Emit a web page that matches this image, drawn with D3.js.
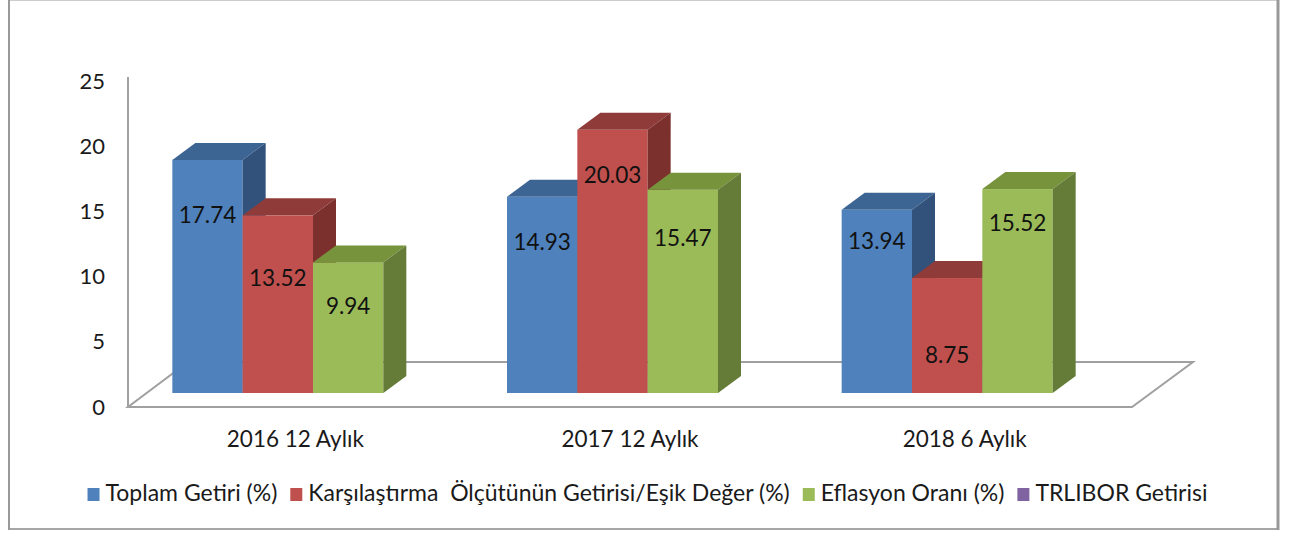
<!DOCTYPE html>
<html>
<head>
<meta charset="utf-8">
<script src="https://cdn.jsdelivr.net/npm/d3@7"></script>
<style>
  body { margin: 0; background: #fff; }
  svg { display: block; font-family: Lato, "Open Sans", sans-serif; }
</style>
</head>
<body>
<svg width="1289" height="533"></svg>
<script>
const categories = ['2016 12 Aylık', '2017 12 Aylık', '2018 6 Aylık'];
const seriesNames = ['Toplam Getiri (%)', 'Karşılaştırma  Ölçütünün Getirisi/Eşik Değer (%)', 'Eflasyon Oranı (%)', 'TRLIBOR Getirisi'];
const toplamGetiri = [17.74, 14.93, 13.94];
const esikDeger = [13.52, 20.03, 8.75];
const enflasyon = [9.94, 15.47, 15.52];
const trlibor = [null, null, null];
const yTicks = [0, 5, 10, 15, 20, 25];

const series = [toplamGetiri, esikDeger, enflasyon, trlibor];

// front / top / side shades for each series
const colors = [
    { front: '#4f81bd', top: '#3d6593', side: '#32527c' },
    { front: '#c0504d', top: '#8f3b39', side: '#7b302e' },
    { front: '#9bbb59', top: '#77933c', side: '#647c37' },
    { front: '#8064a2', top: '#634d7e', side: '#534169' }
];

// how far below the bar top each value label sits (px)
const labelDrop = [[55, 63, 44], [45, 45, 48], [31, 77, 34]];

const svg = d3.select('svg');
const depthX = 23, depthY = -17;

// frame
svg.append('line').attr('x1', 9).attr('x2', 1278).attr('y1', 0.5).attr('y2', 0.5).attr('stroke', '#cccccc');
svg.append('line').attr('x1', 9).attr('x2', 1278).attr('y1', 529).attr('y2', 529).attr('stroke', '#a6a6a6').attr('stroke-width', 2);
svg.append('line').attr('x1', 9).attr('x2', 9).attr('y1', 0).attr('y2', 530).attr('stroke', '#999').attr('stroke-width', 2);
svg.append('line').attr('x1', 1278).attr('x2', 1278).attr('y1', 0).attr('y2', 530).attr('stroke', '#999').attr('stroke-width', 3);

const x = d3.scaleBand().domain(categories).range([128, 1132]);
const groupW = 211;
const xs = d3.scaleBand().domain([0, 1, 2]).range([0, groupW]);
const y = d3.scaleLinear().domain([0, 25]).range([393, 64.5]);
const yAxisScale = d3.scaleLinear().domain([0, 25]).range([407, 81]);

// floor
const floor = [[128, 407], [1132, 407], [1193, 362], [188, 362]];
svg.append('polygon')
    .attr('points', floor.map(p => p.join(',')).join(' '))
    .attr('fill', 'none')
    .attr('stroke', '#a0a0a0')
    .attr('stroke-width', 2);

// y axis
svg.append('line').attr('x1', 128).attr('x2', 128).attr('y1', 77).attr('y2', 407)
    .attr('stroke', '#a0a0a0').attr('stroke-width', 2);

const yAxis = svg.append('g')
    .attr('transform', 'translate(128,0)')
    .call(d3.axisLeft(yAxisScale).tickValues(yTicks).tickSize(0).tickPadding(23));
yAxis.select('.domain').remove();
yAxis.selectAll('text').attr('font-size', 22).attr('fill', '#1a1a1a').attr('font-family', 'Lato');

// bars
const bars = svg.append('g');
categories.forEach((cat, i) => {
    const gx = x(cat) + x.bandwidth() / 2 - 17.5 - groupW / 2;
    [0, 1, 2].forEach(j => {
        const v = series[j][i];
        const x0 = gx + xs(j), x1 = x0 + xs.bandwidth();
        const yt = y(v), yb = y(0);
        const c = colors[j];
        bars.append('rect')
            .attr('x', x0).attr('y', yt)
            .attr('width', xs.bandwidth()).attr('height', yb - yt)
            .attr('fill', c.front);
        bars.append('polygon')
            .attr('points', [[x0, yt], [x1, yt], [x1 + depthX, yt + depthY], [x0 + depthX, yt + depthY]].map(p => p.join(',')).join(' '))
            .attr('fill', c.top);
        bars.append('polygon')
            .attr('points', [[x1, yt], [x1 + depthX, yt + depthY], [x1 + depthX, yb + depthY], [x1, yb]].map(p => p.join(',')).join(' '))
            .attr('fill', c.side);
    });
});

// value labels
categories.forEach((cat, i) => {
    const gx = x(cat) + x.bandwidth() / 2 - 17.5 - groupW / 2;
    [0, 1, 2].forEach(j => {
        const v = series[j][i];
        svg.append('text')
            .attr('x', gx + xs(j) + xs.bandwidth() / 2)
            .attr('y', y(v) + labelDrop[i][j])
            .attr('dy', '0.35em')
            .attr('text-anchor', 'middle')
            .attr('font-size', 22.5)
            .attr('fill', '#111')
            .text(v.toFixed(2));
    });
});

// category labels
svg.selectAll('.cat').data(categories).enter().append('text')
    .attr('class', 'cat')
    .attr('x', d => x(d) + x.bandwidth() / 2)
    .attr('y', 447)
    .attr('text-anchor', 'middle')
    .attr('font-size', 22.5)
    .attr('fill', '#1a1a1a')
    .text(d => d);

// legend
const legend = svg.append('g');
let lx = 0;
seriesNames.forEach((name, k) => {
    legend.append('rect')
        .attr('x', lx).attr('y', 488)
        .attr('width', 12).attr('height', 13)
        .attr('fill', colors[k].front);
    const t = legend.append('text')
        .attr('x', lx + 18).attr('y', 501)
        .attr('font-size', 23)
        .attr('fill', '#1a1a1a')
        .style('white-space', 'pre')
        .text(name);
    lx += 18 + t.node().getComputedTextLength() + 13;
});
lx -= 13;
legend.attr('transform', `translate(${647.5 - lx / 2},0)`);
</script>
</body>
</html>
